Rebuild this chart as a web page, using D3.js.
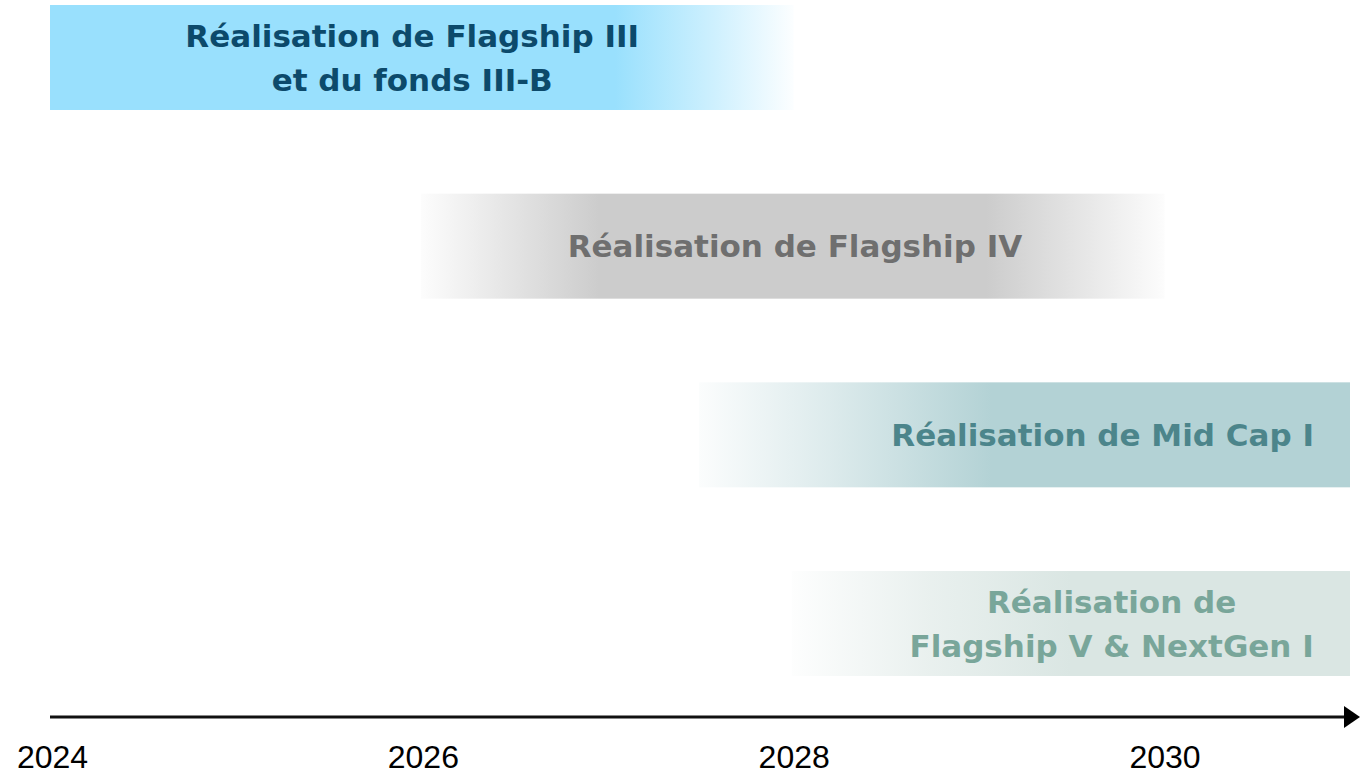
<!DOCTYPE html>
<html>
<head>
<meta charset="utf-8">
<script src="https://cdn.jsdelivr.net/npm/d3@7"></script>
<style>
  body { margin: 0; background: #fff; }
  svg { display: block; }
</style>
</head>
<body>
<svg id="canvas"></svg>
<script>
// phases of the timeline
let phases = [
    ["Réalisation de Flagship III", "et du fonds III-B"],
    ["Réalisation de Flagship IV"],
    ["Réalisation de Mid Cap I"],
    ["Réalisation de", "Flagship V & NextGen I"]
];
let phaseStart = [2024, 2026, 2027.5, 2028];
let phaseEnd = [2028, 2030, 2031, 2031];

// axis tick labels
let tickYears = [2024, 2026, 2028, 2030];

// styling per bar
let fills = ['#99e0fd', '#cccccc', '#b3d2d5', '#dae6e3'];
let textColors = ['#0c4a6b', '#6f6f6f', '#4c858b', '#79a69a'];
let fadeStops = [
    [[0, 1], [0.76, 1], [0.9, 0.45], [1, 0.03]],
    [[0, 0.05], [0.24, 1], [0.76, 1], [1, 0.05]],
    [[0, 0.05], [0.2, 0.45], [0.45, 1], [1, 1]],
    [[0, 0.05], [0.25, 0.6], [0.5, 1], [1, 1]]
];
let labelAt = [0.487, 0.503, 0.62, 0.573];

let width = 1360;
let height = 774;

let canvas = d3.select('#canvas');
canvas.attr('width', width);
canvas.attr('height', height);

let xScale = d3.scaleLinear()
    .domain([2024, 2031])
    .range([52, 1350]);

let yScale = d3.scaleBand()
    .domain(d3.range(phases.length))
    .range([5, 676])
    .paddingInner(0.4435)
    .paddingOuter(0);

let defs = canvas.append('defs');

// one horizontal gradient per bar
phases.forEach((p, i) => {
    let grad = defs.append('linearGradient')
        .attr('id', 'grad' + i)
        .attr('x1', '0%').attr('x2', '100%')
        .attr('y1', '0%').attr('y2', '0%');
    fadeStops[i].forEach(s => {
        grad.append('stop')
            .attr('offset', (s[0] * 100) + '%')
            .attr('stop-color', fills[i])
            .attr('stop-opacity', s[1]);
    });
});

defs.append('marker')
    .attr('id', 'arrow')
    .attr('viewBox', '0 0 10 10')
    .attr('preserveAspectRatio', 'none')
    .attr('refX', 0)
    .attr('refY', 5)
    .attr('markerWidth', 16)
    .attr('markerHeight', 22)
    .attr('markerUnits', 'userSpaceOnUse')
    .attr('orient', 'auto')
    .append('path')
    .attr('d', 'M0,0 L10,5 L0,10 Z')
    .attr('fill', '#000');

let bars = canvas.selectAll('g.phase')
    .data(phases)
    .enter()
    .append('g')
    .attr('class', 'phase');

bars.append('rect')
    .attr('x', (d, i) => xScale(phaseStart[i]) - 2)
    .attr('y', (d, i) => yScale(i))
    .attr('width', (d, i) => xScale(phaseEnd[i]) - xScale(phaseStart[i]) + 2)
    .attr('height', yScale.bandwidth())
    .attr('fill', (d, i) => 'url(#grad' + i + ')');

bars.each(function (lines, i) {
    let x0 = xScale(phaseStart[i]) - 2;
    let w = xScale(phaseEnd[i]) - xScale(phaseStart[i]) + 2;
    let cy = yScale(i) + yScale.bandwidth() / 2;
    let lh = 44;
    let txt = d3.select(this).append('text')
        .attr('x', x0 + w * labelAt[i])
        .attr('text-anchor', 'middle')
        .attr('fill', textColors[i])
        .style('font-family', '"DejaVu Sans", sans-serif')
        .style('font-weight', 'bold')
        .style('font-size', '31px');
    lines.forEach((l, j) => {
        txt.append('tspan')
            .attr('x', x0 + w * labelAt[i])
            .attr('y', cy + (j - (lines.length - 1) / 2) * lh)
            .attr('dy', '0.36em')
            .text(l);
    });
});

// time axis
canvas.append('line')
    .attr('x1', xScale(2024) - 2)
    .attr('x2', 1344)
    .attr('y1', 717)
    .attr('y2', 717)
    .attr('stroke', '#111')
    .attr('stroke-width', 3)
    .attr('marker-end', 'url(#arrow)');

let xAxis = d3.axisBottom(xScale)
    .tickValues(tickYears)
    .tickFormat(d3.format('d'))
    .tickSize(0)
    .tickPadding(28);

let axisG = canvas.append('g')
    .attr('transform', 'translate(0, 717)')
    .call(xAxis);
axisG.select('.domain').remove();
axisG.selectAll('text')
    .attr('fill', '#000')
    .style('font-family', '"Liberation Sans Narrow", "Liberation Sans", sans-serif')
    .style('font-size', '32px');
</script>
</body>
</html>
